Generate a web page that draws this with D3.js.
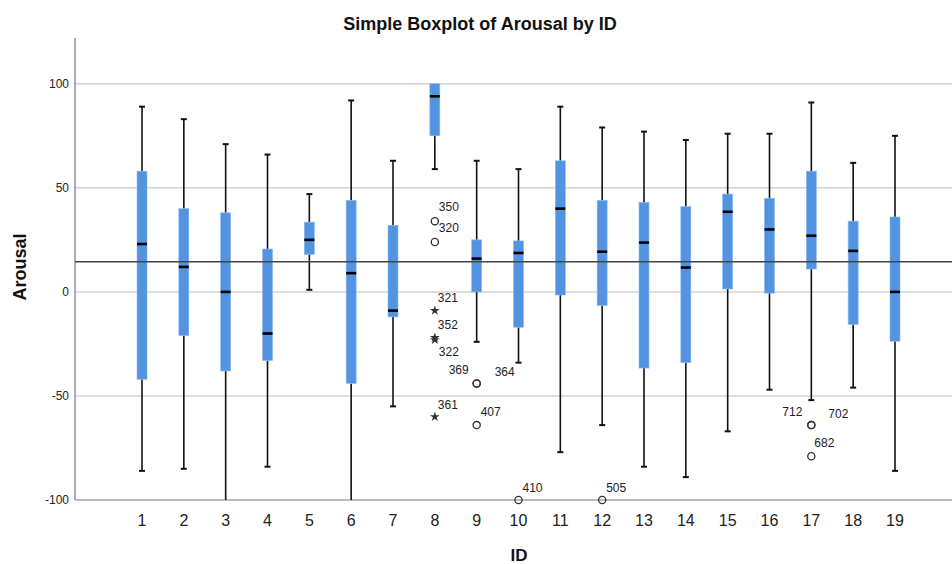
<!DOCTYPE html>
<html>
<head>
<meta charset="utf-8">
<script src="https://cdn.jsdelivr.net/npm/d3@7"></script>
<style>
  body { margin: 0; background: #fff; }
  text { font-family: "Liberation Sans", Arial, sans-serif; }
</style>
</head>
<body>
<div id="chart"></div>
<script>
// box summaries per ID
var ids       = [1, 2, 3, 4, 5, 6, 7, 8, 9, 10, 11, 12, 13, 14, 15, 16, 17, 18, 19];
var whiskLow  = [-86, -85, -100, -84, 1, -100, -55, 59, -24, -34, -77, -64, -84, -89, -67, -47, -52, -46, -86];
var q1        = [-42, -21, -38, -33, 18, -44, -12, 75, 0, -17, -1.5, -6.6, -36.6, -34, 1.4, -0.6, 11, -15.7, -23.7];
var medians   = [23, 12, 0, -20, 25, 9, -9, 94, 16, 18.7, 40, 19.3, 23.7, 11.7, 38.5, 30, 27, 19.7, 0];
var q3        = [58, 40, 38, 20.6, 33.5, 44, 32, 100, 25, 24.5, 63, 44, 43, 41, 47, 45, 58, 34, 36];
var whiskHigh = [89, 83, 71, 66, 47, 92, 63, 100, 63, 59, 89, 79, 77, 73, 76, 76, 91, 62, 75];

// outliers (o = circle, * = extreme)
var outId    = [8, 8, 8, 8, 8, 8, 9, 9, 9, 10, 12, 17, 17, 17];
var outValue = [34, 24, -9, -22, -23, -60, -44, -44, -64, -100, -100, -64, -64, -79];
var outShape = ["o", "o", "*", "*", "*", "*", "o", "o", "o", "o", "o", "o", "o", "o"];
var outLabel = ["350", "320", "321", "352", "322", "361", "369", "364", "407", "410", "505", "712", "702", "682"];

var refLine = 14.5;
var yTicks = [100, 50, 0, -50, -100];

// label offsets from the mark, keyed by case number
var labelPos = {
  "350": [4, -10], "320": [4, -10], "321": [3, -9], "352": [3, -9], "322": [4, 16],
  "361": [3, -8], "369": [-18, -9], "364": [18, -7], "407": [4, -9], "410": [4, -8],
  "505": [4, -8], "712": [-19, -9], "702": [17, -7], "682": [3, -9]
};

var W = 952, H = 564;
var svg = d3.select("#chart").append("svg")
  .attr("width", W).attr("height", H);

var y = d3.scaleLinear().domain([-100, 122]).range([500, 38]);
var x = d3.scalePoint().domain(ids).range([142, 895]);

var left = 75, right = 952;

// gridlines
svg.append("g").selectAll("line")
  .data(yTicks.filter(d => d > -100))
  .enter().append("line")
  .attr("x1", left).attr("x2", right)
  .attr("y1", d => y(d)).attr("y2", d => y(d))
  .attr("stroke", "#d4d4d4").attr("stroke-width", 1.5);

// y tick labels
svg.append("g").selectAll("text")
  .data(yTicks)
  .enter().append("text")
  .attr("x", 69).attr("y", d => y(d) + 4)
  .attr("text-anchor", "end")
  .attr("font-size", "12px").attr("fill", "#222")
  .text(d => d);

// axes frame
svg.append("line").attr("x1", left).attr("x2", left).attr("y1", 38).attr("y2", y(-100))
  .attr("stroke", "#777").attr("stroke-width", 1.2);
svg.append("line").attr("x1", left).attr("x2", right).attr("y1", y(-100)).attr("y2", y(-100))
  .attr("stroke", "#777").attr("stroke-width", 1.2);

// x tick labels
svg.append("g").selectAll("text")
  .data(ids)
  .enter().append("text")
  .attr("x", d => x(d)).attr("y", 526)
  .attr("text-anchor", "middle")
  .attr("font-size", "16px").attr("fill", "#222")
  .text(d => d);

var bw = 10, cap = 6;
var boxes = svg.append("g").selectAll("g")
  .data(ids.map((d, i) => ({id: d, lo: whiskLow[i], q1: q1[i], med: medians[i], q3: q3[i], hi: whiskHigh[i]})))
  .enter().append("g");

// whiskers
boxes.append("line")
  .attr("x1", d => x(d.id)).attr("x2", d => x(d.id))
  .attr("y1", d => y(d.hi)).attr("y2", d => y(d.q3))
  .attr("stroke", "#111").attr("stroke-width", 1.6);
boxes.append("line")
  .attr("x1", d => x(d.id)).attr("x2", d => x(d.id))
  .attr("y1", d => y(d.q1)).attr("y2", d => y(d.lo))
  .attr("stroke", "#111").attr("stroke-width", 1.6);
// caps
boxes.filter(d => d.hi < 100).append("line")
  .attr("x1", d => x(d.id) - cap / 2).attr("x2", d => x(d.id) + cap / 2)
  .attr("y1", d => y(d.hi)).attr("y2", d => y(d.hi))
  .attr("stroke", "#111").attr("stroke-width", 2);
boxes.filter(d => d.lo > -100).append("line")
  .attr("x1", d => x(d.id) - cap / 2).attr("x2", d => x(d.id) + cap / 2)
  .attr("y1", d => y(d.lo)).attr("y2", d => y(d.lo))
  .attr("stroke", "#111").attr("stroke-width", 2);

// boxes
boxes.append("rect")
  .attr("x", d => x(d.id) - bw / 2).attr("width", bw)
  .attr("y", d => y(d.q3)).attr("height", d => y(d.q1) - y(d.q3))
  .attr("fill", "#5294e2").attr("stroke", "#8bb8ee").attr("stroke-width", 0.6);

// medians
boxes.append("line")
  .attr("x1", d => x(d.id) - bw / 2).attr("x2", d => x(d.id) + bw / 2)
  .attr("y1", d => y(d.med)).attr("y2", d => y(d.med))
  .attr("stroke", "#000").attr("stroke-width", 2.6);

// reference line
svg.append("line").attr("x1", left).attr("x2", right)
  .attr("y1", y(refLine)).attr("y2", y(refLine))
  .attr("stroke", "#444").attr("stroke-width", 1.6);

// outliers
var outs = outId.map((d, i) => ({id: d, v: outValue[i], s: outShape[i], lab: outLabel[i]}));
svg.append("g").selectAll("circle")
  .data(outs.filter(d => d.s === "o"))
  .enter().append("circle")
  .attr("cx", d => x(d.id)).attr("cy", d => y(d.v)).attr("r", 3.6)
  .attr("fill", "none").attr("stroke", "#333").attr("stroke-width", 1.3);
svg.append("g").selectAll("path")
  .data(outs.filter(d => d.s === "*"))
  .enter().append("path")
  .attr("d", d3.symbol(d3.symbolStar, 30))
  .attr("transform", d => `translate(${x(d.id)},${y(d.v)})`)
  .attr("fill", "#333");
svg.append("g").selectAll("text")
  .data(outs)
  .enter().append("text")
  .attr("x", d => x(d.id) + labelPos[d.lab][0])
  .attr("y", d => y(d.v) + labelPos[d.lab][1])
  .attr("text-anchor", d => labelPos[d.lab][0] < -5 ? "middle" : "start")
  .attr("font-size", "12px").attr("fill", "#222")
  .text(d => d.lab);

// titles
svg.append("text").attr("x", 480).attr("y", 30)
  .attr("text-anchor", "middle").attr("font-size", "18px").attr("font-weight", "bold")
  .attr("fill", "#111").text("Simple Boxplot of Arousal by ID");
svg.append("text").attr("transform", "translate(26,267) rotate(-90)")
  .attr("text-anchor", "middle").attr("font-size", "18px").attr("font-weight", "bold")
  .attr("fill", "#111").text("Arousal");
svg.append("text").attr("x", 519).attr("y", 561)
  .attr("text-anchor", "middle").attr("font-size", "17px").attr("font-weight", "bold")
  .attr("fill", "#111").text("ID");
</script>
</body>
</html>
